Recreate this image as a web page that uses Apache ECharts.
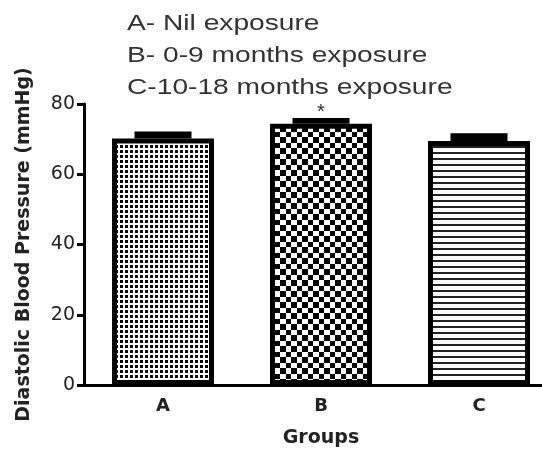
<!DOCTYPE html>
<html>
<head>
<meta charset="utf-8">
<script src="https://cdn.jsdelivr.net/npm/echarts@6/dist/echarts.min.js"></script>
<style>
  html, body { margin: 0; padding: 0; background: #fff; }
  #main { width: 542px; height: 450px; }
</style>
</head>
<body>
<div id="main"></div>
<script>
// data
var groups = ['A', 'B', 'C'];
var meanDbp = [70.2, 74.4, 69.5];
var semDbp = [2.0, 1.6, 2.2];
var sigMarks = ['', '*', ''];
var yTicks = [0, 20, 40, 60, 80];
var legendLines = ['A- Nil exposure', 'B- 0-9 months exposure', 'C-10-18 months exposure'];

// fill patterns for the bars
function makePattern(kind) {
    var c = document.createElement('canvas');
    var ctx;
    if (kind === 'fine') {
        c.width = 5; c.height = 5;
        ctx = c.getContext('2d');
        ctx.fillStyle = '#fff'; ctx.fillRect(0, 0, 5, 5);
        ctx.fillStyle = '#000'; ctx.fillRect(0, 0, 3, 3);
    } else if (kind === 'checker') {
        c.width = 11; c.height = 11;
        ctx = c.getContext('2d');
        ctx.fillStyle = '#fff'; ctx.fillRect(0, 0, 11, 11);
        ctx.fillStyle = '#000';
        ctx.fillRect(0, 0, 5, 5);
        ctx.fillRect(5, 5, 6, 6);
    } else {
        c.width = 6; c.height = 6;
        ctx = c.getContext('2d');
        ctx.fillStyle = '#fff'; ctx.fillRect(0, 0, 6, 6);
        ctx.fillStyle = '#222'; ctx.fillRect(0, 2, 6, 2);
    }
    return { image: c, repeat: 'repeat' };
}
var patterns = [makePattern('fine'), makePattern('checker'), makePattern('lines')];

var chart = echarts.init(document.getElementById('main'));

var barData = meanDbp.map(function (v, i) {
    return { value: v, itemStyle: { color: patterns[i] } };
});
var errData = meanDbp.map(function (v, i) {
    return [i, v, v + semDbp[i], sigMarks[i]];
});

chart.setOption({
    animation: false,
    textStyle: { fontFamily: 'DejaVu Sans, sans-serif' },
    grid: { left: 84, top: 104, width: 474, height: 281, outerBoundsMode: 'none', containLabel: false },
    graphic: legendLines.map(function (t, i) {
        return {
            type: 'text', left: 127, top: 13 + i * 32,
            scaleX: 1.28,
            style: { text: t, font: '22px "Liberation Sans", Arial, sans-serif', fill: '#333' }
        };
    }),
    xAxis: {
        type: 'category',
        data: groups,
        name: 'Groups',
        nameLocation: 'middle',
        nameGap: 44,
        nameTextStyle: { fontSize: 19, fontWeight: 'bold', color: '#222' },
        axisLine: { lineStyle: { color: '#000', width: 3 } },
        axisTick: { alignWithLabel: true, length: 7, lineStyle: { width: 3, color: '#000' } },
        axisLabel: { fontSize: 18, fontWeight: 'bold', color: '#222', margin: 12 }
    },
    yAxis: {
        type: 'value',
        min: yTicks[0],
        max: yTicks[yTicks.length - 1],
        interval: 20,
        name: 'Diastolic Blood Pressure (mmHg)',
        nameLocation: 'middle',
        nameGap: 50,
        nameTextStyle: { fontSize: 19, fontWeight: 'bold', color: '#222' },
        splitLine: { show: false },
        axisLine: { show: true, lineStyle: { color: '#000', width: 3 } },
        axisTick: { show: true, length: 7, lineStyle: { width: 3, color: '#000' } },
        axisLabel: { fontSize: 19, color: '#222', margin: 9 }
    },
    series: [
        {
            type: 'bar',
            barWidth: 102,
            data: barData,
            itemStyle: { borderColor: '#000', borderWidth: 5 }
        },
        {
            type: 'custom',
            data: errData,
            z: 5,
            renderItem: function (params, api) {
                var lo = api.coord([api.value(0), api.value(1)]);
                var hi = api.coord([api.value(0), api.value(2)]);
                var w = 57;
                var mark = errData[params.dataIndex][3];
                var kids = [{
                    type: 'rect',
                    shape: { x: lo[0] - w / 2, y: hi[1], width: w, height: lo[1] - hi[1] },
                    style: { fill: '#000' }
                }];
                if (mark) {
                    kids.push({
                        type: 'text',
                        style: {
                            text: mark, x: hi[0], y: hi[1] - 6,
                            align: 'center', verticalAlign: 'middle',
                            font: '20px "Liberation Sans", Arial, sans-serif', fill: '#333'
                        }
                    });
                }
                return { type: 'group', children: kids };
            }
        }
    ]
});
</script>
</body>
</html>
